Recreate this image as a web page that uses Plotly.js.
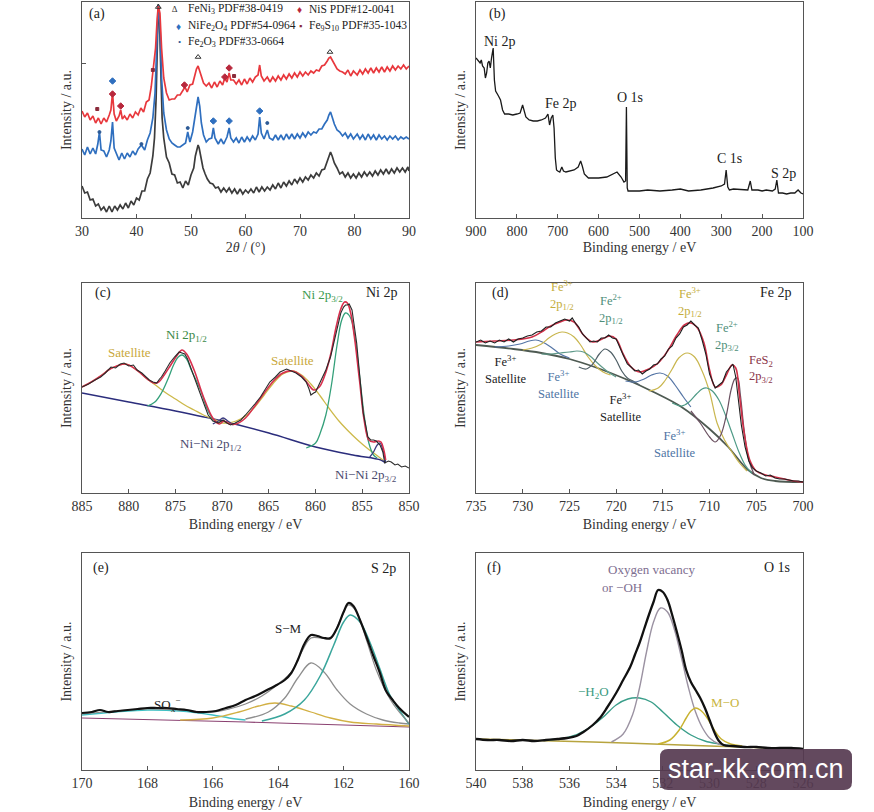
<!DOCTYPE html>
<html><head><meta charset="utf-8">
<script src="https://cdn.plot.ly/plotly-3.0.1.min.js"></script>
<style>html,body{margin:0;padding:0;background:#fff;}#chart{width:874px;height:812px;}</style>
</head><body><div id="chart"></div>
<script>
// ---------- (a) XRD ----------
const xrdBlackX=[30,30.5,31,31.5,32,32.5,33,33.5,34,34.5,35,35.5,36,36.5,37,37.5,38,38.5,39,39.5,40,40.5,41,41.5,42,42.5,43,
 43.3,43.6,43.8,44.0,44.2,44.4,44.7,
 45,45.5,46,46.5,47,47.5,48,48.5,49,49.5,50,50.5,
 50.8,51.1,51.3,51.5,51.8,52.2,52.6,
 53,53.5,54,54.5,55,55.5,56,56.5,57,57.5,58,58.5,59,59.5,60,60.5,61,61.5,62,62.5,63,63.5,64,64.5,65,65.5,66,66.5,67,67.5,68,68.5,69,69.5,70,70.5,71,71.5,72,72.5,73,73.5,74,74.5,75,
 75.3,75.6,75.9,76.3,
 76.8,77.3,77.8,78.3,78.8,79.3,79.8,80.3,80.8,81.3,81.8,82.3,82.8,83.3,83.8,84.3,84.8,85.3,85.8,86.3,86.8,87.3,87.8,88.3,88.8,89.3,89.8,90];
const xrdBlackY=[32,25,26,18,19,12,14,8,11,6,12,6,12,8,13,9,15,10,17,13,20,18,27,27,39,45,62,
 80,120,170,214,200,150,100,
 80,61,55,44,43,35,36,30,37,33,43,50,
 62,71,73,70,61,50,44,
 39,35,34,30,31,26,30,26,30,25,29,24,29,24,28,25,29,25,31,26,31,27,31,28,33,29,35,30,36,32,37,33,39,35,40,36,41,38,43,40,45,42,48,49,57,
 63,66,62,55,
 50,44,46,41,45,40,44,40,45,41,46,42,46,42,47,43,48,44,49,44,49,45,50,46,50,46,51,47];
const xrdBlueX=[30,30.5,31,31.5,32,32.5,32.9,33.2,33.5,34,34.5,35,35.3,35.6,35.9,36.3,36.8,37.3,37.8,38.3,38.8,39.3,39.8,40.3,40.9,41.5,42,42.5,43,
 43.4,43.7,44.0,44.3,44.6,45,45.5,46,46.5,47,47.5,48,48.5,49,49.4,49.8,50.3,50.7,51.0,51.3,51.6,51.9,52.3,52.8,
 53.3,53.8,54.1,54.4,55,55.5,56,56.6,57.0,57.3,57.8,58.3,58.8,59.3,59.8,60.3,60.8,61.3,61.8,62.3,62.6,62.9,63.4,64.0,64.4,
 65,65.5,66,66.5,67,67.5,68,68.5,69,69.5,70,70.5,71,71.5,72,72.5,73,73.5,74,74.5,75,
 75.3,75.6,75.9,76.3,76.8,77.3,77.8,
 78.3,78.8,79.3,79.8,80.5,81,81.5,82,82.5,83,83.5,84,84.5,85,85.5,86,86.5,87,87.5,88,88.5,89,89.5,90];
const xrdBlueY=[69,63,71,64,70,64,74,86,68,67,61,68,77,96,70,64,58,65,59,65,61,67,63,69,73,68,78,85,100,
 125,170,213,195,140,105,88,79,75,73,71,71,73,75,86,76,86,100,115,121,112,95,83,76,
 79,80,90,80,74,79,74,81,90,80,76,80,75,81,76,81,77,82,78,84,101,85,79,88,80,
 78,83,78,83,78,84,79,84,79,84,80,85,81,86,83,86,85,89,89,94,98,
 103,106,101,94,88,86,82,
 85,80,84,79,84,79,83,78,84,79,83,78,83,79,82,78,82,79,82,78,81,79,81,79];
const xrdRedX=[30,30.5,31,31.5,32,32.5,33,33.5,34,34.5,35,35.3,35.6,35.9,36.3,36.8,37.1,37.4,37.8,38.3,38.8,39.3,39.8,40.3,40.8,41.3,41.8,42.3,42.7,
 43.1,43.5,43.8,44.0,44.3,44.6,45,45.5,46,46.5,47,47.5,48,48.5,48.9,49.3,49.8,50.3,50.7,51.0,51.3,51.6,51.9,52.3,
 52.8,53.3,53.8,54.3,54.8,55.3,55.8,56.2,56.6,57.0,57.3,57.8,58.3,58.8,59.3,59.8,60.3,60.8,61.3,61.8,62.3,62.6,62.9,63.4,
 64,64.5,65,65.5,66,66.5,67,67.5,68,68.5,69,69.5,70,70.5,71,71.5,72,72.5,73,73.5,74,74.5,75,
 75.3,75.6,75.9,76.3,76.8,77.3,77.8,
 78.3,78.8,79.3,79.8,80.5,81,81.5,82,82.5,83,83.5,84,84.5,85,85.5,86,86.5,87,87.5,88,88.5,89,89.5,90];
const xrdRedY=[107,101,105,98,102,95,100,94,100,96,103,108,125,104,97,102,108,99,102,98,104,100,106,103,110,106,116,118,131,
 148,170,200,212,205,170,140,125,118,119,119,123,123,127,131,126,133,134,142,149,152,147,140,135,
 132,135,130,136,131,137,133,140,136,145,138,138,134,138,133,139,134,140,136,141,143,153,142,137,
 141,136,141,137,142,138,143,139,144,140,145,141,146,142,146,143,147,145,148,147,152,153,157,
 160,161,158,153,149,147,146,
 144,148,142,147,143,148,144,149,145,150,145,150,146,151,146,151,147,152,148,152,149,153,149,152];
// phase markers (a)
const feni3X=[44.0,51.3,75.5], feni3Y=[211,161,166];
const nisX=[35.6,37.1,48.8,56.2,57.0], nisY=[124,112,133,141,150];
const fe9s10X=[32.8,43.0,57.9], fe9s10Y=[109,148,142];
const nife2o4X=[35.6,54.1,57.0,62.6], nife2o4Y=[137,97,97,107];
const fe2o3X=[33.2,40.9,49.4,64.0], fe2o3Y=[86,74,90,95];

// ---------- (b) survey ----------
const surveyX=[900,895,890,887,884,880,877,874,871,868,865,862,858,855,852,845,840,835,830,820,810,800,792,786,782,778,770,760,750,740,730,724,720,716,712,709,706,703,700,695,690,686,680,670,660,650,644,640,635,630,625,615,600,580,565,555,545,538,534,532,530,528,520,500,480,450,420,400,380,350,320,300,292,288,284,280,270,250,235,229,225,210,200,190,175,168,164,160,150,140,130,120,112,105,100];
const surveyY=[160,157,155,158,152,150,140,145,155,157,150,160,170,138,127,122,118,108,104,104,103,104,105,113,108,101,98,97,97,98,100,104,93,100,103,90,60,48,47,46,51,47,46,47,48,51,57,52,44,42,40,40,40,41,44,46,41,36,37,111,30,27,27,27,28,27,28,29,27,28,30,32,34,48,31,28,29,28,28,37,28,28,27,28,27,29,38,25,25,24,25,25,28,25,24];

// ---------- (c) Ni 2p ----------
const niDataX=[885,884.3,883.6,883,882.5,881.9,881.4,880.9,880.5,880,879.5,879.1,878.6,878.2,877.8,877.4,877.0,876.7,876.5,876.1,875.6,875.1,874.6,874.3,874.0,873.7,873.4,872.9,872.4,871.9,871.5,871.0,870.4,869.9,869.5,869.1,868.6,868.0,867.5,867.0,866.5,865.9,865.4,864.9,864.3,863.8,863.1,862.6,862.1,861.5,861.0,860.7,860.5,860.2,860.0,859.5,858.9,858.4,858.0,857.6,857.3,857.0,856.8,856.6,856.4,856.1,855.9,855.6,855.4,855.1,854.9,854.6,854.4,854.1,853.8,853.5,853.1,852.8,852.6,852.2,851.9,851.5,851.2,850.8,850.4,850];
const niDataY=[98,101,105,108,112,118,117,121,122,119,120,115,112,108,105,103,102,106,108,114,122,128,133,132,131,126,118,105,92,80,70,64,62,65,62,60,62,65,70,75,81,88,95,103,108,113,116,114,112,108,103,96,90,92,93,103,115,128,145,160,172,178,180,180,181,175,162,142,122,95,72,58,48,45,45,44,40,33,22,24,23,20,21,18,19,17];
const niFitX=[885,884,883,882,881,880.5,880,879,878,877.3,876.8,876.2,875.5,874.8,874.3,873.8,873,872,871,870.3,869.8,869.2,868.5,867.5,866.5,865.5,864.5,863.5,862.5,861.5,860.8,860.2,859.6,859,858.4,857.8,857.3,856.9,856.6,856.2,855.8,855.3,854.8,854.3,853.8,853.3,853.0,852.7,852.5];
const niFitY=[98,103,109,116,120,121,120,114,106,102,103,110,120,130,135,131,115,88,67,61,64,61,61,67,79,92,104,112,114,109,101,95,98,110,130,158,176,183,182,170,145,105,65,45,43,44,43,35,25];
const niBgX=[885,880,875,870,865,860,856,853,852.5];
const niBgY=[92,83,74,64,52,38,30,25,22];
const niSat1X=[885,884,883,882,881,880.5,880,879,878,877,876,875,874,873,872,871,870];
const niSat1Y=[98,103,109,116,120,121,120,114,106,99,92,86,80,75,70,66,63];
const ni12X=[878,877.2,876.5,875.8,875.2,874.7,874.3,873.8,873.3,872.7,872.2,871.6,871.0,870.5];
const ni12Y=[79,83,92,106,120,128,130,126,115,103,92,76,66,62];
const niSat2X=[870.5,869.5,868.5,867.5,866.5,865.5,864.5,863.5,862.5,861.5,860.5,859.5,858.5,857.5,856.5,855.5,854.5,853.5,852.8];
const niSat2Y=[62,62,64,69,78,90,102,111,114,110,101,89,76,64,54,45,37,30,25];
const ni32X=[861,860,859.5,858.9,858.3,857.7,857.2,856.8,856.3,855.8,855.3,854.8,854.3,853.8,853.4];
const ni32Y=[37,42,52,70,100,140,165,172,168,148,110,70,42,30,27];
const niNi32X=[854.2,853.8,853.4,853.1,852.8,852.5];
const niNi32Y=[28,33,40,42,35,23];
const niNi12X=[871,870.4,869.9,869.4,868.8];
const niNi12Y=[61,64,67,64,60];

// ---------- (d) Fe 2p ----------
const feDataX=[735,734.5,734,733.5,733,732.5,732,731.5,731,730.5,730,729.5,729,728.5,728,727.5,727,726.5,726,725.5,725,724.7,724.3,724,723.6,723.2,722.8,722.4,722,721.6,721.2,720.8,720.4,720,719.6,719.2,718.8,718.4,718,717.6,717.2,716.8,716.4,716,715.6,715.2,714.8,714.4,714,713.6,713.2,712.8,712.4,712,711.6,711.2,710.8,710.4,710,709.7,709.4,709,708.6,708.2,707.8,707.5,707.2,706.9,706.6,706.2,705.8,705.4,705,704.5,704,703.5,703,702.5,702,701.5,701,700.5,700];
const feDataY=[143,145,142,144,142,145,143,146,143,146,147,149,150,153,154,158,158,162,164,166,164,167,161,158,151,147,143,144,143,147,147,150,147,146,137,129,121,118,114,115,111,114,116,120,121,126,129,136,139,147,151,158,160,164,160,157,145,131,111,104,97,100,103,113,118,121,108,85,60,38,24,17,14,12,9,10,7,6,6,5,4,4,3];
const feFitX=[735,733,731,729,728,727,726,725.3,724.5,723.5,722.5,721.5,720.7,720,719.2,718.4,717.5,716.5,715.5,714.5,713.5,712.7,712,711.3,710.6,710,709.4,708.8,708.2,707.6,707.2,706.8,706.3,705.7,705,704,703,702,701,700];
const feFitY=[143,144,145,148,153,159,163,165,163,150,143,146,149,146,130,118,113,116,122,134,150,160,162,157,142,115,98,100,110,120,117,90,52,25,14,10,8,6,4,3];
const feBgX=[735,731,728,725,722,719,716,713,710,708,706,704.5,703,700];
const feBgY=[140,136,132,126,117,106,93,78,56,38,16,7,4,3];
const feSat1X=[733,731.5,730.3,729.3,728.6,727.9,727,726,725];
const feSat1Y=[138,139,141,144,145,143,138,131,127];
const fe3p12X=[730,729,728,727.2,726.5,725.8,725.2,724.5,723.8,723,722.2,721.4,720.6];
const fe3p12Y=[135,137,141,147,151,153,152,148,140,128,119,113,110];
const feTealX=[728,727,726,725,724.2,723.5,722.8,722,721,720];
const feTealY=[131,131,132,133,134,133,129,122,114,108];
const fe2p12X=[724,723.2,722.5,721.8,721.2,720.6,720,719.4,718.8,718.2,717.5];
const fe2p12Y=[118,116,121,131,136,133,125,114,107,104,100];
const feSat2X=[719,718,717,716.2,715.3,714.5,713.7,712.8,712];
const feSat2Y=[104,103,106,110,112,109,100,88,78];
const fe3p32X=[716.5,715.5,714.8,714,713.3,712.4,711.6,710.8,710,709.2,708.4,707.6,706.8,706];
const fe3p32Y=[94,97,104,116,127,132,128,114,93,62,45,33,22,14];
const fe2p32X=[714,713,712.2,711.4,710.8,710.3,709.7,709,708.3,707.6,706.9,706.2,705.5];
const fe2p32Y=[82,79,83,91,96,97,94,85,70,52,34,20,12];
const fes2X=[712,711,710,709.4,708.8,708.2,707.7,707.3,707.0,706.7,706.3,705.8,705.2];
const fes2Y=[74,62,48,43,50,70,95,106,107,90,55,25,10];

// ---------- (e) S 2p ----------
const sDataX=[170,169.7,169.45,169.2,168.9,168.6,168.3,168.0,167.7,167.4,167.1,166.8,166.5,166.2,165.9,165.6,165.3,165.0,164.7,164.4,164.1,163.8,163.6,163.4,163.2,163.0,162.8,162.6,162.4,162.2,162.0,161.85,161.7,161.5,161.3,161.1,160.9,160.7,160.5,160.3,160.0];
const sDataY=[57,58,60,58,59,60,61,62,62,62,61,60,58,58,59,62,65,70,74,79,84,90,97,110,126,135,134,132,132,142,158,167,164,150,133,115,98,79,70,62,53];
const sFitX=[170,169,168,167,166,165.5,165,164.5,164,163.6,163.3,163.0,162.7,162.4,162.1,161.85,161.6,161.3,161,160.6,160.3,160];
const sFitY=[56,59,61,60,58,61,66,74,86,98,117,132,132,131,150,165,158,130,100,72,58,47];
const sBgX=[170,165,160];
const sBgY=[52,48,43];
const soxX=[170,169,168,167,166,165.5,165];
const soxY=[55,58,60,59,55,52,50];
const sYelX=[167,166,165.2,164.6,164.1,163.6,163.0,162.4,161.8,161,160];
const sYelY=[50,52,58,64,67,64,58,52,48,46,44];
const sGrayX=[165,164.3,163.8,163.4,163.0,162.6,162.2,161.8,161.3,160.8,160.3,160];
const sGrayY=[51,58,72,92,107,98,80,66,56,50,47,46];
const sTealX=[164.5,163.8,163.2,162.7,162.3,162.0,161.8,161.5,161.2,160.9,160.6,160.3,160];
const sTealY=[49,56,70,95,125,148,155,148,128,102,76,60,46];

// ---------- (f) O 1s ----------
const oDataX=[540,539.5,539,538.5,538,537.5,537,536.5,536.1,535.7,535.4,535.0,534.7,534.4,534.0,533.7,533.4,533.2,533.0,532.8,532.6,532.4,532.2,532.0,531.8,531.6,531.4,531.2,531.0,530.8,530.6,530.4,530.2,530.0,529.8,529.6,529.4,529.0,528.5,528,527.5,527,526.5,526];
const oDataY=[31,30,30,29,30,29,30,31,32,34,38,45,52,62,77,90,103,115,127,141,155,168,180,178,170,155,138,120,100,88,80,72,62,50,38,29,25,24,23,23,22,22,22,21];
const oBgX=[540,535,530,526];
const oBgY=[31,28,24,21];
const oH2oX=[537,536,535.3,534.6,534.0,533.5,533.0,532.5,532.0,531.4,530.8,530.2,529.6,529];
const oH2oY=[30,33,40,52,65,71,72,68,58,45,35,29,26,24];
const oVacX=[534.2,533.7,533.3,533.0,532.7,532.4,532.1,531.8,531.5,531.2,530.9,530.6,530.3,530.0,529.6,529.2];
const oVacY=[28,36,55,82,118,148,162,158,140,112,82,58,42,32,26,24];
const oMoX=[532.2,531.7,531.3,531.0,530.8,530.6,530.4,530.1,529.8,529.5,529.1,528.6];
const oMoY=[26,30,40,52,59,62,60,52,40,31,26,24];

// ---------- layout helpers ----------
const W=874,H=812;
const px=x=>x/W, py=y=>1-y/H;
const FONT='"Liberation Serif","Times New Roman",serif';
const FRAME='#555';
function xax(l,r,range,dtick,anchor,title,standoff){
  return {domain:[px(l),px(r)],range:range,dtick:dtick,tick0:0,anchor:anchor,
    ticks:'inside',ticklen:4,tickcolor:FRAME,showline:true,linecolor:FRAME,linewidth:1.2,mirror:true,
    showgrid:false,zeroline:false,automargin:false,
    tickfont:{family:FONT,size:14,color:'#333'},
    title:{text:title,font:{family:FONT,size:14,color:'#333'},standoff:standoff}};
}
function yax(t,b,range,anchor){
  return {domain:[py(b),py(t)],range:range,anchor:anchor,showticklabels:false,ticks:'',
    showline:true,linecolor:FRAME,linewidth:1.2,mirror:true,showgrid:false,zeroline:false,automargin:false,
    title:{text:'Intensity / a.u.',font:{family:FONT,size:14,color:'#333'},standoff:6}};
}
const L=[82,409], R=[476,803];
const rowA=[2,218], rowC=[283,493], rowE=[553,770];

function line(x,y,ax,color,width,shape){
  return {x:x,y:y,xaxis:'x'+ax,yaxis:'y'+ax,type:'scatter',mode:'lines',
    line:{color:color,width:width,shape:shape||'linear',smoothing:1},hoverinfo:'skip'};
}
function mk(x,y,ax,sym,color,size){
  return {x:x,y:y,xaxis:'x'+ax,yaxis:'y'+ax,type:'scatter',mode:'markers',
    marker:{symbol:sym,color:color,size:size,line:{color:color,width:1}},hoverinfo:'skip'};
}

const traces=[
  line(xrdBlackX,xrdBlackY,'','#3c3c3c',1.7),
  line(xrdBlueX,xrdBlueY,'','#2f6fbf',1.7),
  line(xrdRedX,xrdRedY,'','#e8383d',1.7),
  mk(feni3X,feni3Y,'','triangle-up-open','#333',5),
  mk(nisX,nisY,'','diamond','#b8283c',5),
  mk(fe9s10X,fe9s10Y,'','square','#8a2a3a',3),
  mk(nife2o4X,nife2o4Y,'','diamond','#2f6fbf',5),
  mk(fe2o3X,fe2o3Y,'','circle','#2c5a96',3),

  line(surveyX,surveyY,'2','#1a1a1a',1.3),

  line(niBgX,niBgY,'3','#2b2d7c',1.5,'spline'),
  line(niSat1X,niSat1Y,'3','#cdb94a',1.3,'spline'),
  line(niSat2X,niSat2Y,'3','#cdb94a',1.3,'spline'),
  line(ni12X,ni12Y,'3','#34a07a',1.3,'spline'),
  line(ni32X,ni32Y,'3','#34a07a',1.3,'spline'),
  line(niNi12X,niNi12Y,'3','#3a3a80',1.3,'spline'),
  line(niNi32X,niNi32Y,'3','#3a3a80',1.3,'spline'),
  line(niFitX,niFitY,'3','#d8304e',1.6,'spline'),
  line(niDataX,niDataY,'3','#2a2a2a',1.1),

  line(feBgX,feBgY,'4','#4e5a52',1.8,'spline'),
  line(feSat1X,feSat1Y,'4','#5676a6',1.2,'spline'),
  line(fe3p12X,fe3p12Y,'4','#c9b64e',1.2,'spline'),
  line(feTealX,feTealY,'4','#5f9a8a',1.2,'spline'),
  line(fe2p12X,fe2p12Y,'4','#4f5f66',1.2,'spline'),
  line(feSat2X,feSat2Y,'4','#5676a6',1.2,'spline'),
  line(fe3p32X,fe3p32Y,'4','#c9b64e',1.2,'spline'),
  line(fe2p32X,fe2p32Y,'4','#4e9a86',1.2,'spline'),
  line(fes2X,fes2Y,'4','#6a5060',1.2,'spline'),
  line(feFitX,feFitY,'4','#d03048',1.6,'spline'),
  line(feDataX,feDataY,'4','#1e1e1e',1.1),

  line(sBgX,sBgY,'5','#8a4070',1.2,'spline'),
  line(soxX,soxY,'5','#40c0c4',1.5,'spline'),
  line(sYelX,sYelY,'5','#d2b044',1.3,'spline'),
  line(sGrayX,sGrayY,'5','#8e8e8e',1.3,'spline'),
  line(sTealX,sTealY,'5','#3aa69c',1.5,'spline'),
  line(sFitX,sFitY,'5','#8a8a8a',1.2,'spline'),
  line(sDataX,sDataY,'5','#111',2.2,'spline'),

  line(oBgX,oBgY,'6','#b7a43e',1.5,'spline'),
  line(oH2oX,oH2oY,'6','#3a9e8a',1.4,'spline'),
  line(oVacX,oVacY,'6','#9b92a2',1.4,'spline'),
  line(oMoX,oMoY,'6','#c8b230',1.5,'spline'),
  line(oDataX,oDataY,'6','#111',2.3,'spline')
];

function ann(x,y,text,color,size,opts){
  return Object.assign({xref:'paper',yref:'paper',x:px(x),y:py(y),text:text,showarrow:false,
    font:{family:FONT,size:size||13,color:color||'#222'},xanchor:'center',yanchor:'middle'},opts||{});
}
const annotations=[
  ann(97,14,'(a)','#222',14),
  ann(175,9,'∆','#333',9),
  ann(186,9,'FeNi<sub>3</sub> PDF#38-0419','#222',11.5,{xanchor:'left'}),
  ann(299,9,'♦','#b8283c',10),
  ann(307,9,'NiS PDF#12-0041','#222',11.5,{xanchor:'left'}),
  ann(178,26,'♦','#2f6fbf',10),
  ann(186,26,'NiFe<sub>2</sub>O<sub>4</sub> PDF#54-0964','#222',11.5,{xanchor:'left'}),
  ann(300,26,'▪','#8a2a3a',9),
  ann(307,26,'Fe<sub>9</sub>S<sub>10</sub> PDF#35-1043','#222',11.5,{xanchor:'left'}),
  ann(179,42,'•','#2c5a96',9),
  ann(186,42,'Fe<sub>2</sub>O<sub>3</sub> PDF#33-0664','#222',11.5,{xanchor:'left'}),

  ann(497,14,'(b)','#222',14),
  ann(500,42,'Ni 2p','#222',14),
  ann(561,103,'Fe 2p','#222',14),
  ann(630,97,'O 1s','#222',14),
  ann(729,159,'C 1s','#222',14),
  ann(783,173,'S 2p','#222',14),

  ann(103,293,'(c)','#222',14),
  ann(382,293,'Ni 2p','#222',14),
  ann(322,295,'Ni 2p<sub>3/2</sub>','#3a9a50',13),
  ann(186,336,'Ni 2p<sub>1/2</sub>','#3a8a48',13),
  ann(129,352,'Satellite','#c9a83a',13),
  ann(292,360,'Satellite','#c9a83a',13),
  ann(211,444,'Ni−Ni 2p<sub>1/2</sub>','#4a4a6e',13),
  ann(366,475,'Ni−Ni 2p<sub>3/2</sub>','#4a4a6e',13),

  ann(500,293,'(d)','#222',14),
  ann(776,293,'Fe 2p','#222',14),
  ann(562,295,'Fe<sup>3+</sup><br>2p<sub>1/2</sub>','#c4ad3c',12.5),
  ann(611,309,'Fe<sup>2+</sup><br>2p<sub>1/2</sub>','#4f8f7a',12.5),
  ann(690,302,'Fe<sup>3+</sup><br>2p<sub>1/2</sub>','#c4ad3c',12.5),
  ann(727,336,'Fe<sup>2+</sup><br>2p<sub>3/2</sub>','#4f8f7a',12.5),
  ann(761,369,'FeS<sub>2</sub><br>2p<sub>3/2</sub>','#8a3448',12.5),
  ann(505,370,'Fe<sup>3+</sup><br>Satellite','#222',12.5),
  ann(558,384,'Fe<sup>3+</sup><br>Satellite','#4e74a4',12.5),
  ann(620,407,'Fe<sup>3+</sup><br>Satellite','#222',12.5),
  ann(674,443,'Fe<sup>3+</sup><br>Satellite','#4e74a4',12.5),

  ann(101,568,'(e)','#222',14),
  ann(383,568,'S 2p','#222',14),
  ann(288,628,'S−M','#222',13),
  ann(167,705,'SO<sub>x</sub><sup>−</sup>','#222',13),

  ann(494,568,'(f)','#222',14),
  ann(777,567,'O 1s','#222',14),
  ann(651,569,'Oxygen vacancy','#7d6e90',13),
  ann(600,587,'or −OH','#7d6e90',13,{xanchor:'left'}),
  ann(593,692,'−H<sub>2</sub>O','#3a9a80',13),
  ann(725,702,'M−O','#c8b440',13),

  ann(756,769,'star-kk.com.cn','#ffffff',27,{font:{family:'"Liberation Sans",Arial,sans-serif',size:27,color:'#ffffff'}})
];

// rounded watermark box
const bx0=660,bx1=852,by0=749,by1=790,rr=8;
const wm='M '+px(bx0+rr)+' '+py(by0)+' L '+px(bx1-rr)+' '+py(by0)+' Q '+px(bx1)+' '+py(by0)+' '+px(bx1)+' '+py(by0+rr)+
 ' L '+px(bx1)+' '+py(by1-rr)+' Q '+px(bx1)+' '+py(by1)+' '+px(bx1-rr)+' '+py(by1)+
 ' L '+px(bx0+rr)+' '+py(by1)+' Q '+px(bx0)+' '+py(by1)+' '+px(bx0)+' '+py(by1-rr)+
 ' L '+px(bx0)+' '+py(by0+rr)+' Q '+px(bx0)+' '+py(by0)+' '+px(bx0+rr)+' '+py(by0)+' Z';

const layout={
  width:W,height:H,margin:{l:0,r:0,t:0,b:0},paper_bgcolor:'#ffffff',plot_bgcolor:'#ffffff',
  showlegend:false,hovermode:false,
  xaxis:xax(L[0],L[1],[30,90],10,'y','2<i>θ</i> / (°)',4),
  yaxis:Object.assign(yax(rowA[0],rowA[1],[0,216],'x'),{tickvals:[155],ticks:'inside',ticklen:4,tickcolor:FRAME}),
  xaxis2:xax(R[0],R[1],[900,100],100,'y2','Binding energy / eV',4),
  yaxis2:yax(rowA[0],rowA[1],[0,216],'x2'),
  xaxis3:xax(L[0],L[1],[885,850],5,'y3','Binding energy / eV',6),
  yaxis3:yax(rowC[0],rowC[1],[-8,202],'x3'),
  xaxis4:xax(R[0],R[1],[735,700],5,'y4','Binding energy / eV',6),
  yaxis4:yax(rowC[0],rowC[1],[-8,202],'x4'),
  xaxis5:xax(L[0],L[1],[170,160],2,'y5','Binding energy / eV',7),
  yaxis5:yax(rowE[0],rowE[1],[0,217],'x5'),
  xaxis6:xax(R[0],R[1],[540,526],2,'y6','Binding energy / eV',7),
  yaxis6:yax(rowE[0],rowE[1],[0,217],'x6'),
  annotations:annotations,
  shapes:[{type:'path',xref:'paper',yref:'paper',path:wm,fillcolor:'rgba(86,58,80,0.92)',line:{width:0},layer:'above'}]
};
Plotly.newPlot('chart',traces,layout,{staticPlot:true,displayModeBar:false});
</script></body></html>
